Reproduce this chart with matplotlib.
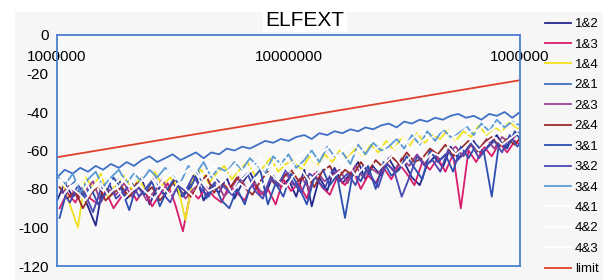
import numpy as np
import matplotlib
matplotlib.use('Agg')
from matplotlib import pyplot as plt
from matplotlib.patches import Rectangle

# frequency grid in MHz (log spaced sweep)
freq_mhz = [1.00, 1.08, 1.17, 1.26, 1.36, 1.47, 1.58, 1.71, 1.85, 2.00,
            2.15, 2.32, 2.51, 2.71, 2.93, 3.16, 3.41, 3.69, 3.98, 4.30,
            4.64, 5.01, 5.41, 5.84, 6.31, 6.81, 7.36, 7.94, 8.58, 9.26,
            10.0, 10.8, 11.7, 12.6, 13.6, 14.7, 15.8, 17.1, 18.5, 20.0,
            21.5, 23.2, 25.1, 27.1, 29.3, 31.6, 34.1, 36.9, 39.8, 43.0,
            46.4, 50.1, 54.1, 58.4, 63.1, 68.1, 73.6, 79.4, 85.8, 92.6,
            100.0]
# each pair was swept on a slightly offset grid
grid_shift = [1.0, 1.0259, 1.0525]

s12 = [-86, -77, -84, -80, -89, -99, -78, -83, -75, -85,
       -81, -74, -88, -79, -83, -76, -84, -80, -73, -86,
       -78, -82, -74, -85, -77, -71, -80, -83, -73, -79,
       -75, -84, -70, -89, -74, -81, -69, -77, -72, -66,
       -75, -68, -73, -64, -71, -66, -74, -78, -67, -63,
       -69, -58, -64, -60, -55, -62, -57, -52, -59, -54,
       -50]
s13 = [-90, -82, -87, -79, -85, -88, -81, -90, -84, -78,
       -86, -80, -89, -83, -77, -88, -102, -81, -85, -79,
       -84, -87, -78, -82, -86, -76, -83, -80, -88, -75,
       -81, -77, -85, -72, -79, -83, -74, -78, -70, -80,
       -73, -77, -69, -75, -67, -72, -78, -66, -70, -64,
       -71, -62, -90, -60, -66, -58, -63, -56, -61, -55,
       -58]
s14 = [-76, -88, -100, -74, -79, -72, -84, -77, -73, -80,
       -75, -82, -71, -78, -74, -79, -96, -73, -70, -77,
       -72, -68, -75, -70, -66, -73, -69, -64, -71, -67,
       -65, -70, -63, -68, -62, -66, -60, -64, -59, -63,
       -57, -61, -55, -60, -53, -58, -51, -56, -52, -54,
       -49, -55, -50, -53, -47, -52, -48, -50, -45, -49,
       -46]
s21 = [-74, -70, -72, -69, -71, -68, -70, -67, -69, -66,
       -68, -65, -63, -66, -64, -62, -65, -63, -61, -64,
       -61, -62, -59, -60, -58, -59, -57, -55, -56, -54,
       -55, -53, -52, -54, -51, -52, -50, -51, -49, -50,
       -48, -49, -47, -46, -48, -45, -46, -44, -45, -43,
       -44, -42, -41, -43, -42, -44, -41, -42, -40, -43,
       -40]
s23 = [-82, -78, -85, -81, -76, -87, -80, -83, -77, -84,
       -79, -86, -81, -75, -83, -78, -85, -80, -77, -82,
       -76, -84, -79, -73, -81, -77, -83, -75, -79, -72,
       -78, -74, -80, -71, -76, -73, -70, -77, -68, -74,
       -69, -72, -66, -71, -64, -68, -62, -67, -60, -65,
       -61, -58, -63, -57, -60, -54, -59, -53, -56, -51,
       -55]
s24 = [-79, -85, -81, -90, -83, -78, -86, -82, -79, -84,
       -77, -83, -79, -86, -81, -75, -80, -84, -78, -73,
       -82, -77, -80, -74, -79, -83, -76, -71, -78, -74,
       -70, -76, -73, -79, -71, -68, -75, -70, -73, -66,
       -71, -65, -69, -63, -67, -61, -66, -64, -59, -62,
       -57, -63, -59, -55, -61, -56, -53, -58, -54, -57,
       -52]
s31 = [-95, -80, -76, -84, -79, -88, -82, -74, -80, -91,
       -78, -83, -76, -89, -80, -74, -84, -79, -71, -85,
       -77, -86, -90, -80, -88, -75, -70, -88, -77, -84,
       -72, -79, -88, -74, -69, -78, -73, -95, -71, -76,
       -68, -80, -66, -73, -70, -63, -69, -75, -60, -66,
       -62, -71, -58, -64, -57, -61, -84, -55, -59, -50,
       -56]
s32 = [-81, -87, -78, -83, -92, -80, -76, -85, -81, -77,
       -84, -79, -74, -82, -87, -78, -81, -73, -80, -84,
       -75, -79, -83, -76, -72, -81, -85, -74, -78, -70,
       -77, -82, -72, -75, -80, -70, -76, -72, -78, -68,
       -73, -79, -67, -70, -84, -74, -63, -68, -65, -71,
       -60, -66, -62, -56, -64, -59, -55, -61, -52, -58,
       -53]
s34 = [-73, -78, -72, -82, -75, -71, -79, -74, -70, -77,
       -72, -76, -70, -74, -69, -73, -77, -68, -72, -66,
       -74, -69, -71, -66, -70, -64, -68, -72, -63, -67,
       -62, -69, -65, -60, -66, -58, -63, -61, -67, -57,
       -62, -56, -60, -58, -54, -59, -52, -57, -50, -55,
       -49, -53, -51, -47, -52, -46, -50, -44, -48, -45,
       -47]
s41 = [-75, -80, -77, -73, -81, -76, -72, -78, -74, -79,
       -71, -76, -73, -78, -70, -75, -72, -69, -74, -71,
       -68, -73, -70, -66, -71, -67, -64, -69, -65, -62,
       -67, -63, -60, -65, -61, -58, -63, -59, -56, -61,
       -57, -54, -59, -55, -52, -56, -53, -50, -54, -51,
       -48, -52, -49, -46, -50, -47, -45, -48, -44, -46,
       -43]
s42 = [-84, -79, -82, -86, -80, -77, -83, -79, -85, -81,
       -78, -82, -85, -79, -83, -77, -80, -84, -76, -81,
       -79, -75, -82, -77, -80, -74, -78, -72, -76, -79,
       -73, -70, -76, -72, -68, -74, -71, -67, -73, -69,
       -65, -70, -66, -62, -68, -64, -60, -65, -61, -63,
       -58, -62, -59, -55, -60, -56, -53, -57, -54, -51,
       -55]
s43 = [-78, -74, -80, -76, -83, -77, -81, -75, -79, -73,
       -80, -76, -73, -79, -75, -71, -77, -74, -70, -76,
       -72, -78, -74, -69, -75, -71, -67, -73, -70, -66,
       -71, -66, -69, -64, -70, -65, -62, -67, -63, -60,
       -64, -60, -57, -62, -58, -55, -60, -56, -53, -58,
       -54, -51, -56, -52, -49, -53, -50, -47, -51, -48,
       -50]

limit_freq = [1e6, 1e8]
limit_db = [-63.5, -23.5]

# name, values, colour, which sweep grid
series = [('1&2', s12, '#26268c', 0), ('1&3', s13, '#d81b6a', 1), ('1&4', s14, '#f2e21e', 2),
          ('2&1', s21, '#3f70c4', 0), ('2&3', s23, '#a0428e', 2), ('2&4', s24, '#9c2a2a', 1),
          ('3&1', s31, '#2c4fb0', 1), ('3&2', s32, '#4848b4', 2), ('3&4', s34, '#5b9bd5', 0),
          ('4&1', s41, '#ffffff', 1), ('4&2', s42, '#ffffff', 2), ('4&3', s43, '#ffffff', 0)]

plt.rcParams['font.family'] = ['Liberation Sans', 'DejaVu Sans']
plt.rcParams['axes.unicode_minus'] = False

fig = plt.figure(figsize=(6.13, 2.80), dpi=100)
fig.patch.set_facecolor('white')
fig.patches.append(Rectangle((15 / 613, 0), 1 - 25 / 613, 1 - 12 / 280,
                             transform=fig.transFigure, facecolor='#f6f6f6',
                             edgecolor='none', zorder=-10))

ax = fig.add_axes([57 / 613, 1 - 266 / 280, 463 / 613, 231 / 280])
ax.set_facecolor('#f8f8f8')

base = np.array(freq_mhz) * 1e6
for name, vals, col, g in series:
    ax.plot(base * grid_shift[g], vals, color=col, lw=1.3, label=name)
ax.plot(limit_freq, limit_db, color='#e0402a', lw=1.3, label='limit')

ax.set_xscale('log')
ax.set_xlim(1e6, 1e8)
ax.set_ylim(-120, 0)
ax.set_yticks([0, -20, -40, -60, -80, -100, -120])
ax.set_xticks([1e6, 1e7, 1e8])
ax.set_xticklabels(['1000000', '10000000', '1000000'])
ax.minorticks_off()
ax.tick_params(axis='x', top=True, labeltop=True, bottom=False, labelbottom=False,
               length=0, pad=-21, labelsize=11)
ax.tick_params(axis='y', length=0, pad=6, labelsize=11)

for sp in ax.spines.values():
    sp.set_color('#4a7fd0')
    sp.set_linewidth(1.3)

fig.text(305 / 613, 1 - 20 / 280, 'ELFEXT', fontsize=15, ha='center', va='center',
         bbox=dict(facecolor='white', edgecolor='none', pad=2))

fig.legend(loc='upper left', bbox_to_anchor=(545 / 613, 1 - 18 / 280), frameon=False,
           fontsize=9.5, handlelength=2.0, handletextpad=0.25, labelspacing=0.62,
           borderpad=0, borderaxespad=0)

fig.savefig('out.png', dpi=100, facecolor=fig.get_facecolor())
